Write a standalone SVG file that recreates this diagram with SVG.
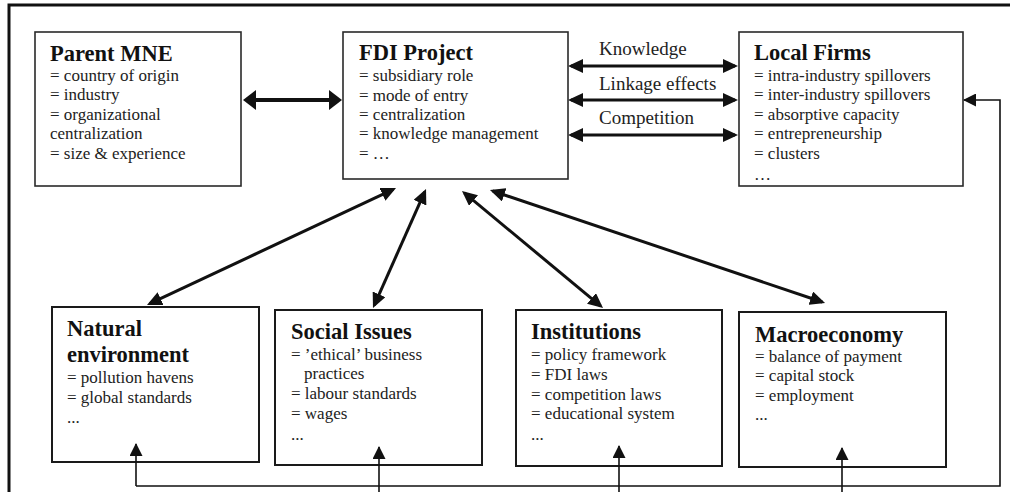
<svg xmlns="http://www.w3.org/2000/svg" width="1010" height="492" viewBox="0 0 1010 492">
<style>
.box{fill:#fff;stroke:#2a2a2a;stroke-width:1.6}
.boxb{fill:#fff;stroke:#1a1a1a;stroke-width:2}
.t{font-family:"Liberation Serif","Times New Roman",serif;font-weight:bold;font-size:22.5px;fill:#111}
.b{font-family:"Liberation Serif","Times New Roman",serif;font-size:17px;fill:#222}
.l{font-family:"Liberation Serif","Times New Roman",serif;font-size:19px;fill:#222}
.thick{stroke:#111;stroke-width:3;fill:none}
.thin{stroke:#111;stroke-width:1.6;fill:none}
</style>
<defs>
<marker id="big" viewBox="0 0 13 20" refX="10" refY="10" markerWidth="13" markerHeight="20" markerUnits="userSpaceOnUse" orient="auto-start-reverse"><path d="M0,0 L13,10 L0,20 z" fill="#111"/></marker>
<marker id="mid" viewBox="0 0 15 14" refX="12" refY="7" markerWidth="15" markerHeight="14" markerUnits="userSpaceOnUse" orient="auto-start-reverse"><path d="M0,0 L15,7 L0,14 z" fill="#111"/></marker>
<marker id="sm" viewBox="0 0 13 13" refX="12" refY="6.5" markerWidth="13" markerHeight="13" markerUnits="userSpaceOnUse" orient="auto-start-reverse"><path d="M0,0 L13,6.5 L0,13 z" fill="#111"/></marker>
</defs>
<path d="M9,492 V5 H1010" fill="none" stroke="#111" stroke-width="3"/>
<g id="connectors">
<line x1="246" y1="100" x2="339" y2="100" stroke="#111" stroke-width="4" marker-start="url(#big)" marker-end="url(#big)"/>
<line class="thick" x1="571" y1="66" x2="735" y2="66" marker-start="url(#mid)" marker-end="url(#mid)"/>
<line class="thick" x1="571" y1="100" x2="735" y2="100" marker-start="url(#mid)" marker-end="url(#mid)"/>
<line class="thick" x1="571" y1="135" x2="735" y2="135" marker-start="url(#mid)" marker-end="url(#mid)"/>
<line class="thick" x1="393.3" y1="189.3" x2="149.7" y2="303.7" marker-start="url(#mid)" marker-end="url(#mid)"/>
<line class="thick" x1="424.8" y1="191.7" x2="374.2" y2="305.3" marker-start="url(#mid)" marker-end="url(#mid)"/>
<line class="thick" x1="464.3" y1="192.9" x2="600.7" y2="306.1" marker-start="url(#mid)" marker-end="url(#mid)"/>
<line class="thick" x1="492.8" y1="191" x2="822.2" y2="302" marker-start="url(#mid)" marker-end="url(#mid)"/>
<text class="l" x="599" y="55">Knowledge</text>
<text class="l" x="599" y="90">Linkage effects</text>
<text class="l" x="599" y="124">Competition</text>
</g>
<g id="parent-mne">
<rect class="box" x="35" y="32" width="206" height="154"/>
<text class="t" x="50" y="61">Parent MNE</text>
<text class="b" x="50" y="81">= country of origin</text>
<text class="b" x="50" y="100">= industry</text>
<text class="b" x="50" y="120">= organizational</text>
<text class="b" x="50" y="139">centralization</text>
<text class="b" x="50" y="159">= size &amp; experience</text>
</g>
<g id="fdi-project">
<rect class="box" x="343" y="32" width="225" height="147"/>
<text class="t" x="359" y="60">FDI Project</text>
<text class="b" x="359" y="81">= subsidiary role</text>
<text class="b" x="359" y="101">= mode of entry</text>
<text class="b" x="359" y="120">= centralization</text>
<text class="b" x="359" y="139">= knowledge management</text>
<text class="b" x="359" y="159">= …</text>
</g>
<g id="local-firms">
<rect class="box" x="739" y="32" width="224" height="154"/>
<text class="t" x="754" y="60">Local Firms</text>
<text class="b" x="754" y="81">= intra-industry spillovers</text>
<text class="b" x="754" y="100">= inter-industry spillovers</text>
<text class="b" x="754" y="120">= absorptive capacity</text>
<text class="b" x="754" y="139">= entrepreneurship</text>
<text class="b" x="754" y="159">= clusters</text>
<text class="b" x="754" y="180">…</text>
</g>
<g id="natural-environment">
<rect class="boxb" x="52" y="307" width="207" height="155"/>
<text class="t" x="67" y="336">Natural</text>
<text class="t" x="67" y="362">environment</text>
<text class="b" x="67" y="383">= pollution havens</text>
<text class="b" x="67" y="403">= global standards</text>
<text class="b" x="67" y="423">...</text>
</g>
<g id="social-issues">
<rect class="boxb" x="275" y="310" width="207" height="155"/>
<text class="t" x="291" y="339">Social Issues</text>
<text class="b" x="291" y="360">= ’ethical’ business</text>
<text class="b" x="304" y="379">practices</text>
<text class="b" x="291" y="399">= labour standards</text>
<text class="b" x="291" y="419">= wages</text>
<text class="b" x="291" y="440">...</text>
</g>
<g id="institutions">
<rect class="boxb" x="516" y="310" width="206" height="156"/>
<text class="t" x="531" y="339">Institutions</text>
<text class="b" x="531" y="360">= policy framework</text>
<text class="b" x="531" y="380">= FDI laws</text>
<text class="b" x="531" y="400">= competition laws</text>
<text class="b" x="531" y="419">= educational system</text>
<text class="b" x="531" y="440">...</text>
</g>
<g id="macroeconomy">
<rect class="boxb" x="739" y="312" width="207" height="155"/>
<text class="t" x="755" y="342">Macroeconomy</text>
<text class="b" x="755" y="362">= balance of payment</text>
<text class="b" x="755" y="381">= capital stock</text>
<text class="b" x="755" y="401">= employment</text>
<text class="b" x="755" y="420">...</text>
</g>
<g id="feedback-connectors">
<path class="thin" d="M136,486 H1000 V100 H964" marker-end="url(#sm)"/>
<line class="thin" x1="136" y1="486" x2="136" y2="444" marker-end="url(#sm)"/>
<line class="thin" x1="379" y1="492" x2="379" y2="447" marker-end="url(#sm)"/>
<line class="thin" x1="619" y1="492" x2="619" y2="446" marker-end="url(#sm)"/>
<line class="thin" x1="842" y1="492" x2="842" y2="448" marker-end="url(#sm)"/>
</g>
</svg>
